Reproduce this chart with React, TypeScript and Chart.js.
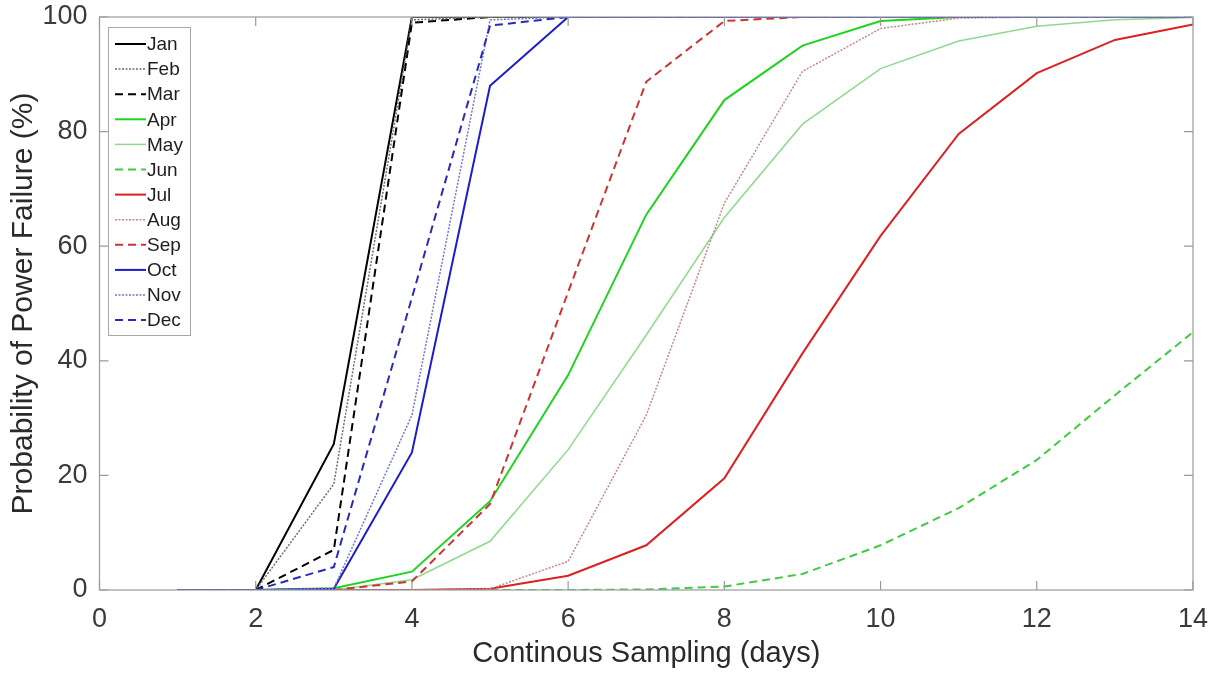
import React, { useEffect, useRef } from "react";
import { Chart, registerables } from "chart.js";

Chart.register(...registerables);

const days = [1, 2, 3, 4, 5, 6, 7, 8, 9, 10, 11, 12, 13, 14];
const monthLabels = ["Jan", "Feb", "Mar", "Apr", "May", "Jun", "Jul", "Aug", "Sep", "Oct", "Nov", "Dec"];

const jan = [0, 0, 25.5, 100, 100, 100, 100, 100, 100, 100, 100, 100, 100, 100];
const feb = [0, 0, 18.5, 99.5, 100, 100, 100, 100, 100, 100, 100, 100, 100, 100];
const mar = [0, 0, 7, 99, 100, 100, 100, 100, 100, 100, 100, 100, 100, 100];
const apr = [0, 0, 0.3, 3.2, 15.5, 37.5, 65.5, 85.5, 95, 99.3, 100, 100, 100, 100];
const may = [0, 0, 0, 1.8, 8.5, 24.5, 44.5, 65, 81.3, 91, 95.8, 98.4, 99.5, 99.9];
const jun = [0, 0, 0, 0, 0, 0, 0.1, 0.6, 2.8, 7.8, 14.3, 22.7, 34, 45];
const jul = [0, 0, 0, 0, 0.2, 2.5, 7.8, 19.5, 41.3, 61.8, 79.6, 90.2, 96, 98.7];
const aug = [0, 0, 0, 0, 0.2, 5, 30.5, 67.5, 90.5, 98, 99.8, 100, 100, 100];
const sep = [0, 0, 0, 1.5, 15, 52, 88.7, 99.3, 100, 100, 100, 100, 100, 100];
const oct = [0, 0, 0.2, 24, 88, 100, 100, 100, 100, 100, 100, 100, 100, 100];
const nov = [0, 0, 0.3, 30.5, 99.5, 100, 100, 100, 100, 100, 100, 100, 100, 100];
const dec = [0, 0, 4, 51, 98.5, 100, 100, 100, 100, 100, 100, 100, 100, 100];

const seriesValues = [jan, feb, mar, apr, may, jun, jul, aug, sep, oct, nov, dec];
const seriesColors = [
  "#000000", "#6e6e6e", "#000000",
  "#1ed41e", "#8fd98f", "#3fcb3f",
  "#dd2020", "#c48888", "#cc3434",
  "#1c1ccc", "#7474cc", "#2a2ab8",
];
const seriesDash: number[][] = [
  [], [2, 1.5], [8, 5],
  [], [], [8, 5],
  [], [2, 1.5], [8, 5],
  [], [2, 1.5], [8, 5],
];
const seriesWidth = [2, 1.5, 2, 2, 1.5, 2, 2, 1.5, 2, 2, 1.5, 2];

const xTicks = [0, 2, 4, 6, 8, 10, 12, 14];
const yTicks = [0, 20, 40, 60, 80, 100];

const FONT = "'Liberation Sans', Arial, sans-serif";

const boxPlugin = {
  id: "matlabBox",
  afterDatasetsDraw(chart: any) {
    const { ctx, chartArea } = chart;
    const { left, right, top, bottom } = chartArea;
    const xs = chart.scales.x;
    const ys = chart.scales.y;
    ctx.save();
    ctx.strokeStyle = "#9a9a9a";
    ctx.lineWidth = 1.2;
    ctx.strokeRect(left, top, right - left, bottom - top);
    const L = 9;
    ctx.beginPath();
    xTicks.forEach((v) => {
      const px = xs.getPixelForValue(v);
      ctx.moveTo(px, bottom);
      ctx.lineTo(px, bottom - L);
      ctx.moveTo(px, top);
      ctx.lineTo(px, top + L);
    });
    yTicks.forEach((v) => {
      const py = ys.getPixelForValue(v);
      ctx.moveTo(left, py);
      ctx.lineTo(left + L, py);
      ctx.moveTo(right, py);
      ctx.lineTo(right - L, py);
    });
    ctx.stroke();
    ctx.restore();
  },
  afterDraw(chart: any) {
    const { ctx } = chart;
    const bx = 108, by = 27, bw = 82, bh = 308;
    ctx.save();
    ctx.fillStyle = "#ffffff";
    ctx.fillRect(bx, by, bw, bh);
    ctx.strokeStyle = "#a8a8a8";
    ctx.lineWidth = 1;
    ctx.strokeRect(bx + 0.5, by + 0.5, bw, bh);
    ctx.font = `19px ${FONT}`;
    ctx.textBaseline = "middle";
    ctx.textAlign = "left";
    chart.data.datasets.forEach((ds: any, i: number) => {
      const y = 44 + i * 25.1;
      ctx.beginPath();
      ctx.strokeStyle = ds.borderColor;
      ctx.lineWidth = ds.borderWidth;
      ctx.setLineDash(ds.borderDash || []);
      ctx.moveTo(115, y);
      ctx.lineTo(146, y);
      ctx.stroke();
      ctx.setLineDash([]);
      ctx.fillStyle = "#1e1e1e";
      ctx.fillText(ds.label, 147, y + 1);
    });
    ctx.restore();
  },
};

export default function App() {
  const ref = useRef<HTMLCanvasElement | null>(null);
  useEffect(() => {
    document.body.style.margin = "0";
    const canvas = ref.current;
    if (!canvas) return;
    const datasets = monthLabels.map((label, i) => ({
      label,
      data: days.map((d, j) => ({ x: d, y: seriesValues[i][j] })),
      borderColor: seriesColors[i],
      backgroundColor: seriesColors[i],
      borderDash: seriesDash[i],
      borderWidth: seriesWidth[i],
      pointRadius: 0,
      fill: false,
      tension: 0,
      order: 12 - i,
    }));
    const chart = new Chart(canvas, {
      type: "line",
      data: { datasets },
      plugins: [boxPlugin],
      options: {
        animation: false,
        responsive: false,
        maintainAspectRatio: false,
        layout: { padding: { left: 0, right: 24, top: 17, bottom: 0 } },
        plugins: { legend: { display: false }, tooltip: { enabled: false } },
        scales: {
          x: {
            type: "linear",
            min: 0,
            max: 14,
            afterBuildTicks: (axis: any) => {
              axis.ticks = xTicks.map((v) => ({ value: v }));
            },
            afterFit: (axis: any) => {
              axis.height = 85;
              axis.paddingLeft = 0;
              axis.paddingRight = 0;
            },
            grid: { display: false, drawTicks: false },
            border: { display: false },
            ticks: {
              color: "#3a3a3a",
              font: { family: FONT, size: 27 },
              padding: 13,
            },
            title: {
              display: true,
              text: "Continous Sampling (days)",
              color: "#2a2a2a",
              font: { family: FONT, size: 29 },
              padding: { top: 0, bottom: 4 },
            },
          },
          y: {
            type: "linear",
            min: 0,
            max: 100,
            afterBuildTicks: (axis: any) => {
              axis.ticks = yTicks.map((v) => ({ value: v }));
            },
            afterFit: (axis: any) => {
              axis.width = 99.5;
              axis.paddingTop = 0;
              axis.paddingBottom = 0;
            },
            grid: { display: false, drawTicks: false },
            border: { display: false },
            ticks: {
              color: "#3a3a3a",
              font: { family: FONT, size: 27 },
              padding: 12,
            },
            title: {
              display: true,
              text: "Probability of Power Failure (%)",
              color: "#2a2a2a",
              font: { family: FONT, size: 30 },
              padding: { top: 6, bottom: 0 },
            },
          },
        },
      },
    } as any);
    return () => chart.destroy();
  }, []);
  return (
    <div style={{ width: 1217, height: 675, background: "#fff" }}>
      <canvas ref={ref} width={1217} height={675} style={{ display: "block" }} />
    </div>
  );
}
